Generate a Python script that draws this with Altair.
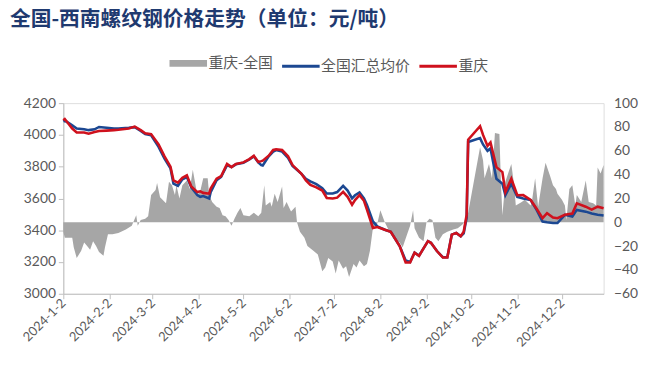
import altair as alt
import pandas as pd

# ---------------- data ----------------
line_dates = [
    "01-02", "01-03", "01-08", "01-11", "01-16", "01-19", "01-23", "01-26", "01-31",
    "02-05", "02-08", "02-15", "02-19", "02-23", "02-26", "03-01", "03-06", "03-10",
    "03-14", "03-16", "03-19", "03-22", "03-25", "03-28", "04-01", "04-03", "04-05",
    "04-09", "04-10", "04-14", "04-17", "04-21", "04-24", "04-27", "05-02", "05-06",
    "05-09", "05-12", "05-14", "05-15", "05-19", "05-22", "05-24", "05-28", "06-01",
    "06-04", "06-10", "06-13", "06-16", "06-20", "06-24", "06-27", "07-01", "07-04",
    "07-08", "07-11", "07-14", "07-16", "07-19", "07-22", "07-24", "07-28", "07-31",
    "08-05", "08-09", "08-15", "08-19", "08-22", "08-25", "08-28", "08-30", "09-03",
    "09-05", "09-09", "09-13", "09-16", "09-19", "09-22", "09-25", "09-27", "09-29",
    "09-30", "10-08", "10-10", "10-13", "10-15", "10-19", "10-23", "10-25", "10-29",
    "11-02", "11-06", "11-11", "11-15", "11-19", "11-22", "11-26", "11-29", "12-04",
    "12-09", "12-12", "12-18", "12-22", "12-26", "12-30",
]
national_avg = [
    4085, 4090, 4060, 4040, 4035, 4030, 4035, 4050, 4045,
    4040, 4040, 4045, 4049, 4025, 4005, 3998, 3925, 3850,
    3790, 3693, 3679, 3720, 3735, 3670, 3621, 3610, 3615,
    3600, 3640, 3715, 3735, 3810, 3797, 3815, 3825, 3845,
    3865, 3827, 3810, 3807, 3865, 3895, 3905, 3895, 3855,
    3805, 3755, 3724, 3708, 3690, 3665, 3631, 3631, 3640,
    3679, 3650, 3600, 3620, 3638, 3600, 3559, 3455, 3424,
    3403, 3390, 3300, 3210, 3200, 3259, 3240, 3270, 3331,
    3321, 3269, 3230, 3230, 3372, 3383, 3362, 3380, 3480,
    3955, 3980, 3940, 3900, 3915, 3724, 3693, 3621, 3693,
    3610, 3600, 3590, 3528, 3455, 3450, 3445, 3445, 3497,
    3486, 3528, 3517, 3505, 3497, 3493,
]
chongqing = [
    4092, 4100, 4040, 4015, 4015, 4008, 4018, 4025, 4027,
    4030, 4032, 4040, 4052, 4030, 4010, 4005, 3940, 3865,
    3800, 3714, 3700, 3730, 3745, 3675, 3640, 3645, 3635,
    3630, 3662, 3725, 3740, 3817, 3797, 3817, 3827, 3848,
    3869, 3830, 3835, 3838, 3869, 3905, 3910, 3905, 3865,
    3810, 3755, 3714, 3685, 3670, 3650, 3603, 3600, 3605,
    3642, 3610, 3560, 3590, 3621, 3585, 3530, 3414, 3420,
    3403, 3390, 3300, 3197, 3197, 3259, 3238, 3270, 3331,
    3321, 3269, 3228, 3228, 3372, 3383, 3362, 3390, 3497,
    3970, 4055, 4000, 3931, 3952, 3797, 3766, 3640, 3724,
    3620, 3621, 3590, 3535, 3476, 3507, 3480, 3476, 3497,
    3505, 3569, 3548, 3530, 3548, 3538,
]

diff_dates = [
    "01-02", "01-03", "01-08", "01-09", "01-11", "01-14", "01-16", "01-18", "01-20",
    "01-22", "01-24", "01-26", "01-29", "01-30", "02-01", "02-04", "02-08", "02-13",
    "02-17", "02-20", "02-21", "02-23", "02-26", "02-28", "03-01", "03-04", "03-05",
    "03-07", "03-11", "03-13", "03-15", "03-17", "03-18", "03-20", "03-22", "03-25",
    "03-27", "03-29", "04-01", "04-03", "04-05", "04-08", "04-09", "04-11", "04-14",
    "04-16", "04-18", "04-20", "04-22", "04-24", "04-26", "04-28", "04-30", "05-02",
    "05-06", "05-09", "05-12", "05-14", "05-16", "05-17", "05-20", "05-21", "05-23",
    "05-25", "05-28", "05-29", "05-31", "06-03", "06-06", "06-07", "06-09", "06-12",
    "06-14", "06-18", "06-21", "06-24", "06-26", "06-28", "07-01", "07-03", "07-05",
    "07-08", "07-10", "07-12", "07-15", "07-17", "07-19", "07-22", "07-24", "07-26",
    "07-28", "07-31", "08-02", "08-05", "08-07", "08-11", "08-15", "08-17", "08-20",
    "08-22", "08-24", "08-25", "08-28", "08-31", "09-02", "09-04", "09-06", "09-08",
    "09-10", "09-13", "09-16", "09-20", "09-23", "09-26", "09-28", "09-30", "10-08",
    "10-10", "10-11", "10-14", "10-16", "10-18", "10-21", "10-22", "10-23", "10-25",
    "10-29", "10-31", "11-01", "11-05", "11-07", "11-11", "11-12", "11-14", "11-16",
    "11-19", "11-21", "11-24", "11-26", "11-28", "11-29", "12-02", "12-04", "12-05",
    "12-07", "12-09", "12-11", "12-12", "12-15", "12-18", "12-20", "12-23", "12-25",
    "12-26", "12-28", "12-30",
]
diff_values = [
    -8, -13, -13, -21, -30, -24, -17, -20, -23,
    -16, -20, -25, -28, -21, -10, -10, -9, -6,
    -3, 6, -3, 2, 3, 5, 23, 27, 33,
    21, 16, 34, 31, 23, 31, 20, 31, 35,
    28, 44, 23, 26, 37, 37, 23, 17, 13,
    12, 6, 5, 2, -3, 3, 8, 12, 6,
    5, 8, 5, 8, 31, 14, 17, 13, 24,
    17, 30, 12, 17, 9, 13, 0, -8, -13,
    -20, -24, -27, -41, -38, -30, -33, -43, -32,
    -39, -37, -46, -35, -38, -32, -37, -35, -24,
    -5, -1, 10, 0, -5, -13, -17, -21, -10,
    -3, 10, -5, -13, -16, 0, 3, 2, -13,
    -16, -10, -8, -6, -5, -2, 1, 8, 63,
    52, 37, 49, 37, 75, 74, 34, 6, 34,
    49, 30, 14, 17, 19, 14, 19, 37, 13,
    37, 50, 39, 31, 28, 24, 19, 14, 2,
    28, 31, 14, 23, 17, 35, 17, 16, 14,
    46, 41, 48,
]

series_names = ["重庆-全国", "全国汇总均价", "重庆"]
series_colors = ["#a6a6a6", "#1c4892", "#cf111d"]
month_ticks = [(2024, m, 2) for m in range(1, 13)]
price_ticks = [3000, 3200, 3400, 3600, 3800, 4000, 4200]
diff_ticks = [-60, -40, -20, 0, 20, 40, 60, 80, 100]
title_text = "全国-西南螺纹钢价格走势（单位：元/吨）"

# ---------------- tables ----------------
df_nat = pd.DataFrame({"date": ["2024-" + d + "T00:00:00" for d in line_dates],
                       "price": national_avg, "series": series_names[1]})
df_cq = pd.DataFrame({"date": ["2024-" + d + "T00:00:00" for d in line_dates],
                      "price": chongqing, "series": series_names[2]})
df_diff = pd.DataFrame({"date": ["2024-" + d + "T00:00:00" for d in diff_dates],
                        "diff": diff_values, "series": series_names[0]})

label_color = "#595959"
axis_color = "#bfbfbf"
num_font = "Lato"
cjk_font = "Noto Sans CJK SC"

x_enc = alt.X(
    "date:T",
    title=None,
    scale=alt.Scale(domain=[alt.DateTime(year=2024, month=1, date=2),
                            alt.DateTime(year=2024, month=12, date=30)]),
    axis=alt.Axis(
        values=[alt.DateTime(year=y, month=m, date=d) for (y, m, d) in month_ticks],
        format="%Y-%-m-%-d", labelAngle=315, labelAlign="right", labelBaseline="middle",
        labelFont=num_font, labelFontSize=13, labelColor=label_color,
        domainColor=axis_color, tickColor=axis_color, tickSize=5, labelPadding=2,
        grid=False, labelOverlap=False, labelFlush=False,
    ),
)

legend = alt.Legend(
    title=None, orient="none", legendX=119, legendY=-48, direction="horizontal",
    symbolType="stroke", symbolSize=1444,
    symbolStrokeWidth=alt.ExprRef("datum.value === '重庆-全国' ? 7 : 3"),
    symbolStrokeColor=alt.ExprRef("scale('color', datum.value)"),
    symbolFillColor="transparent",
    labelFont=cjk_font, labelFontSize=15, labelColor=label_color,
    columnPadding=2, labelOffset=13,
)
color_enc = alt.Color("series:N", scale=alt.Scale(domain=series_names, range=series_colors),
                      legend=legend)

area = alt.Chart(df_diff).mark_area(opacity=1).encode(
    x=x_enc,
    y=alt.Y("diff:Q", title=None, scale=alt.Scale(domain=[-60, 100], nice=False, zero=False),
            axis=alt.Axis(orient="right", values=diff_ticks, domain=False, ticks=False,
                          grid=False, format="d", labelFont=num_font, labelFontSize=14,
                          labelColor=label_color, labelPadding=10)),
    y2=alt.datum(0),
    color=color_enc,
)

y_price = alt.Y("price:Q", title=None,
                scale=alt.Scale(domain=[3000, 4200], nice=False, zero=False),
                axis=alt.Axis(orient="left", values=price_ticks, domainColor=axis_color,
                              tickColor=axis_color, tickSize=5, grid=False, format="d",
                              labelFont=num_font, labelFontSize=14,
                              labelColor=label_color, labelPadding=3))

nat_line = alt.Chart(df_nat).mark_line(strokeWidth=2.6).encode(x=x_enc, y=y_price, color=color_enc)
cq_line = alt.Chart(df_cq).mark_line(strokeWidth=2.6).encode(x=x_enc, y=y_price, color=color_enc)

lines = alt.layer(nat_line, cq_line)

chart = alt.layer(area, lines).resolve_scale(y="independent").properties(
    width=547, height=193,
    autosize=alt.AutoSizeParams(type="none"),
    padding={"left": 56, "top": 94, "right": 49, "bottom": 86},
    title=alt.TitleParams(title_text, anchor="start", frame="group", dx=-54, offset=26,
                          font=cjk_font, fontSize=21, fontWeight="bold", color="#1f3a70"),
).configure_view(stroke=None).configure(background="white")

chart.save("out.html", embed_options={"renderer": "svg", "actions": False})
